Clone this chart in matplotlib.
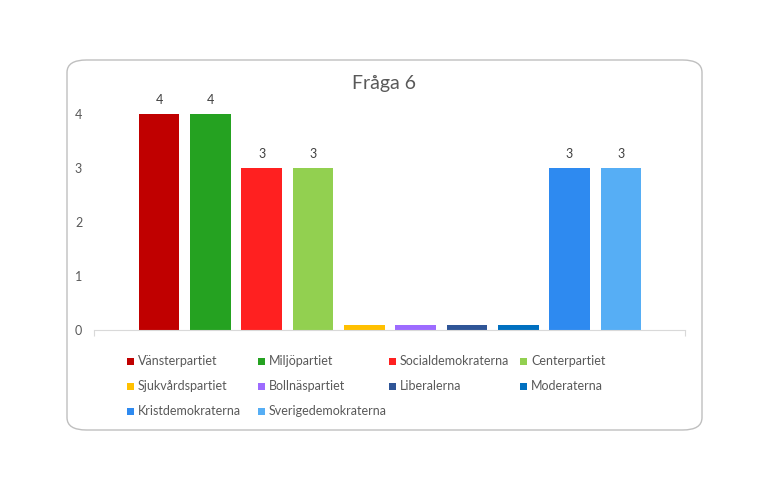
import matplotlib.pyplot as plt
from matplotlib.patches import FancyBboxPatch, Rectangle

# party names, vote counts and bar colours
partier = ["Vänsterpartiet", "Miljöpartiet", "Socialdemokraterna", "Centerpartiet",
           "Sjukvårdspartiet", "Bollnäspartiet", "Liberalerna", "Moderaterna",
           "Kristdemokraterna", "Sverigedemokraterna"]
roster = [4, 4, 3, 3, 0.1, 0.1, 0.1, 0.1, 3, 3]
etiketter = ["4", "4", "3", "3", "", "", "", "", "3", "3"]
farger = ["#C00000", "#25A221", "#FF2020", "#92D050", "#FFC000",
          "#9D6BFF", "#2F5597", "#0070C0", "#2E8AF0", "#56AEF5"]
yticks = [0, 1, 2, 3, 4]

plt.rcParams['font.family'] = ['Lato', 'DejaVu Sans']

fig = plt.figure(figsize=(7.76, 4.96), dpi=100)
W, H = 776, 496

# rounded chart border
box = FancyBboxPatch((67 / W, (H - 430) / H), (702 - 67) / W, (430 - 60) / H,
                     boxstyle="round,pad=0,rounding_size=0.025",
                     transform=fig.transFigure, facecolor="white",
                     edgecolor="#bfbfbf", linewidth=1.0, zorder=-1)
fig.patches.append(box)

ax = fig.add_axes([94 / W, (H - 330) / H, (685 - 94) / W, 243 / H])
x = list(range(len(partier)))
bars = ax.bar(x, roster, width=0.79, color=farger)
ax.bar_label(bars, labels=etiketter, padding=6, fontsize=9, color="#404040")

ax.set_xlim(-1.27, 10.25)
ax.set_ylim(0, 4.5)
ax.set_yticks(yticks)
ax.set_xticks([-1.27, 10.25])
ax.set_xticklabels([])
ax.tick_params(axis='y', length=0, pad=8.5, labelsize=9, labelcolor="#595959")
ax.tick_params(axis='x', length=4, color="#d9d9d9", direction="out")
for s in ["top", "right", "left"]:
    ax.spines[s].set_visible(False)
ax.spines["bottom"].set_color("#d9d9d9")
ax.patch.set_alpha(0)

fig.text(384 / W, 1 - 84 / H, "Fråga 6", ha="center", va="center",
         fontsize=14, color="#595959")

# legend in fixed-width columns, row by row like Excel
for i, (namn, farg) in enumerate(zip(partier, farger)):
    col, row = i % 4, i // 4
    lx = 127 + 131 * col
    ly = 361 + 25 * row
    fig.patches.append(Rectangle((lx / W, 1 - (ly + 3.5) / H), 7 / W, 7 / H,
                                 transform=fig.transFigure, facecolor=farg,
                                 edgecolor="none"))
    fig.text((lx + 11) / W, 1 - ly / H, namn, ha="left", va="center",
             fontsize=9, color="#595959")

fig.savefig("out.png", dpi=100)
